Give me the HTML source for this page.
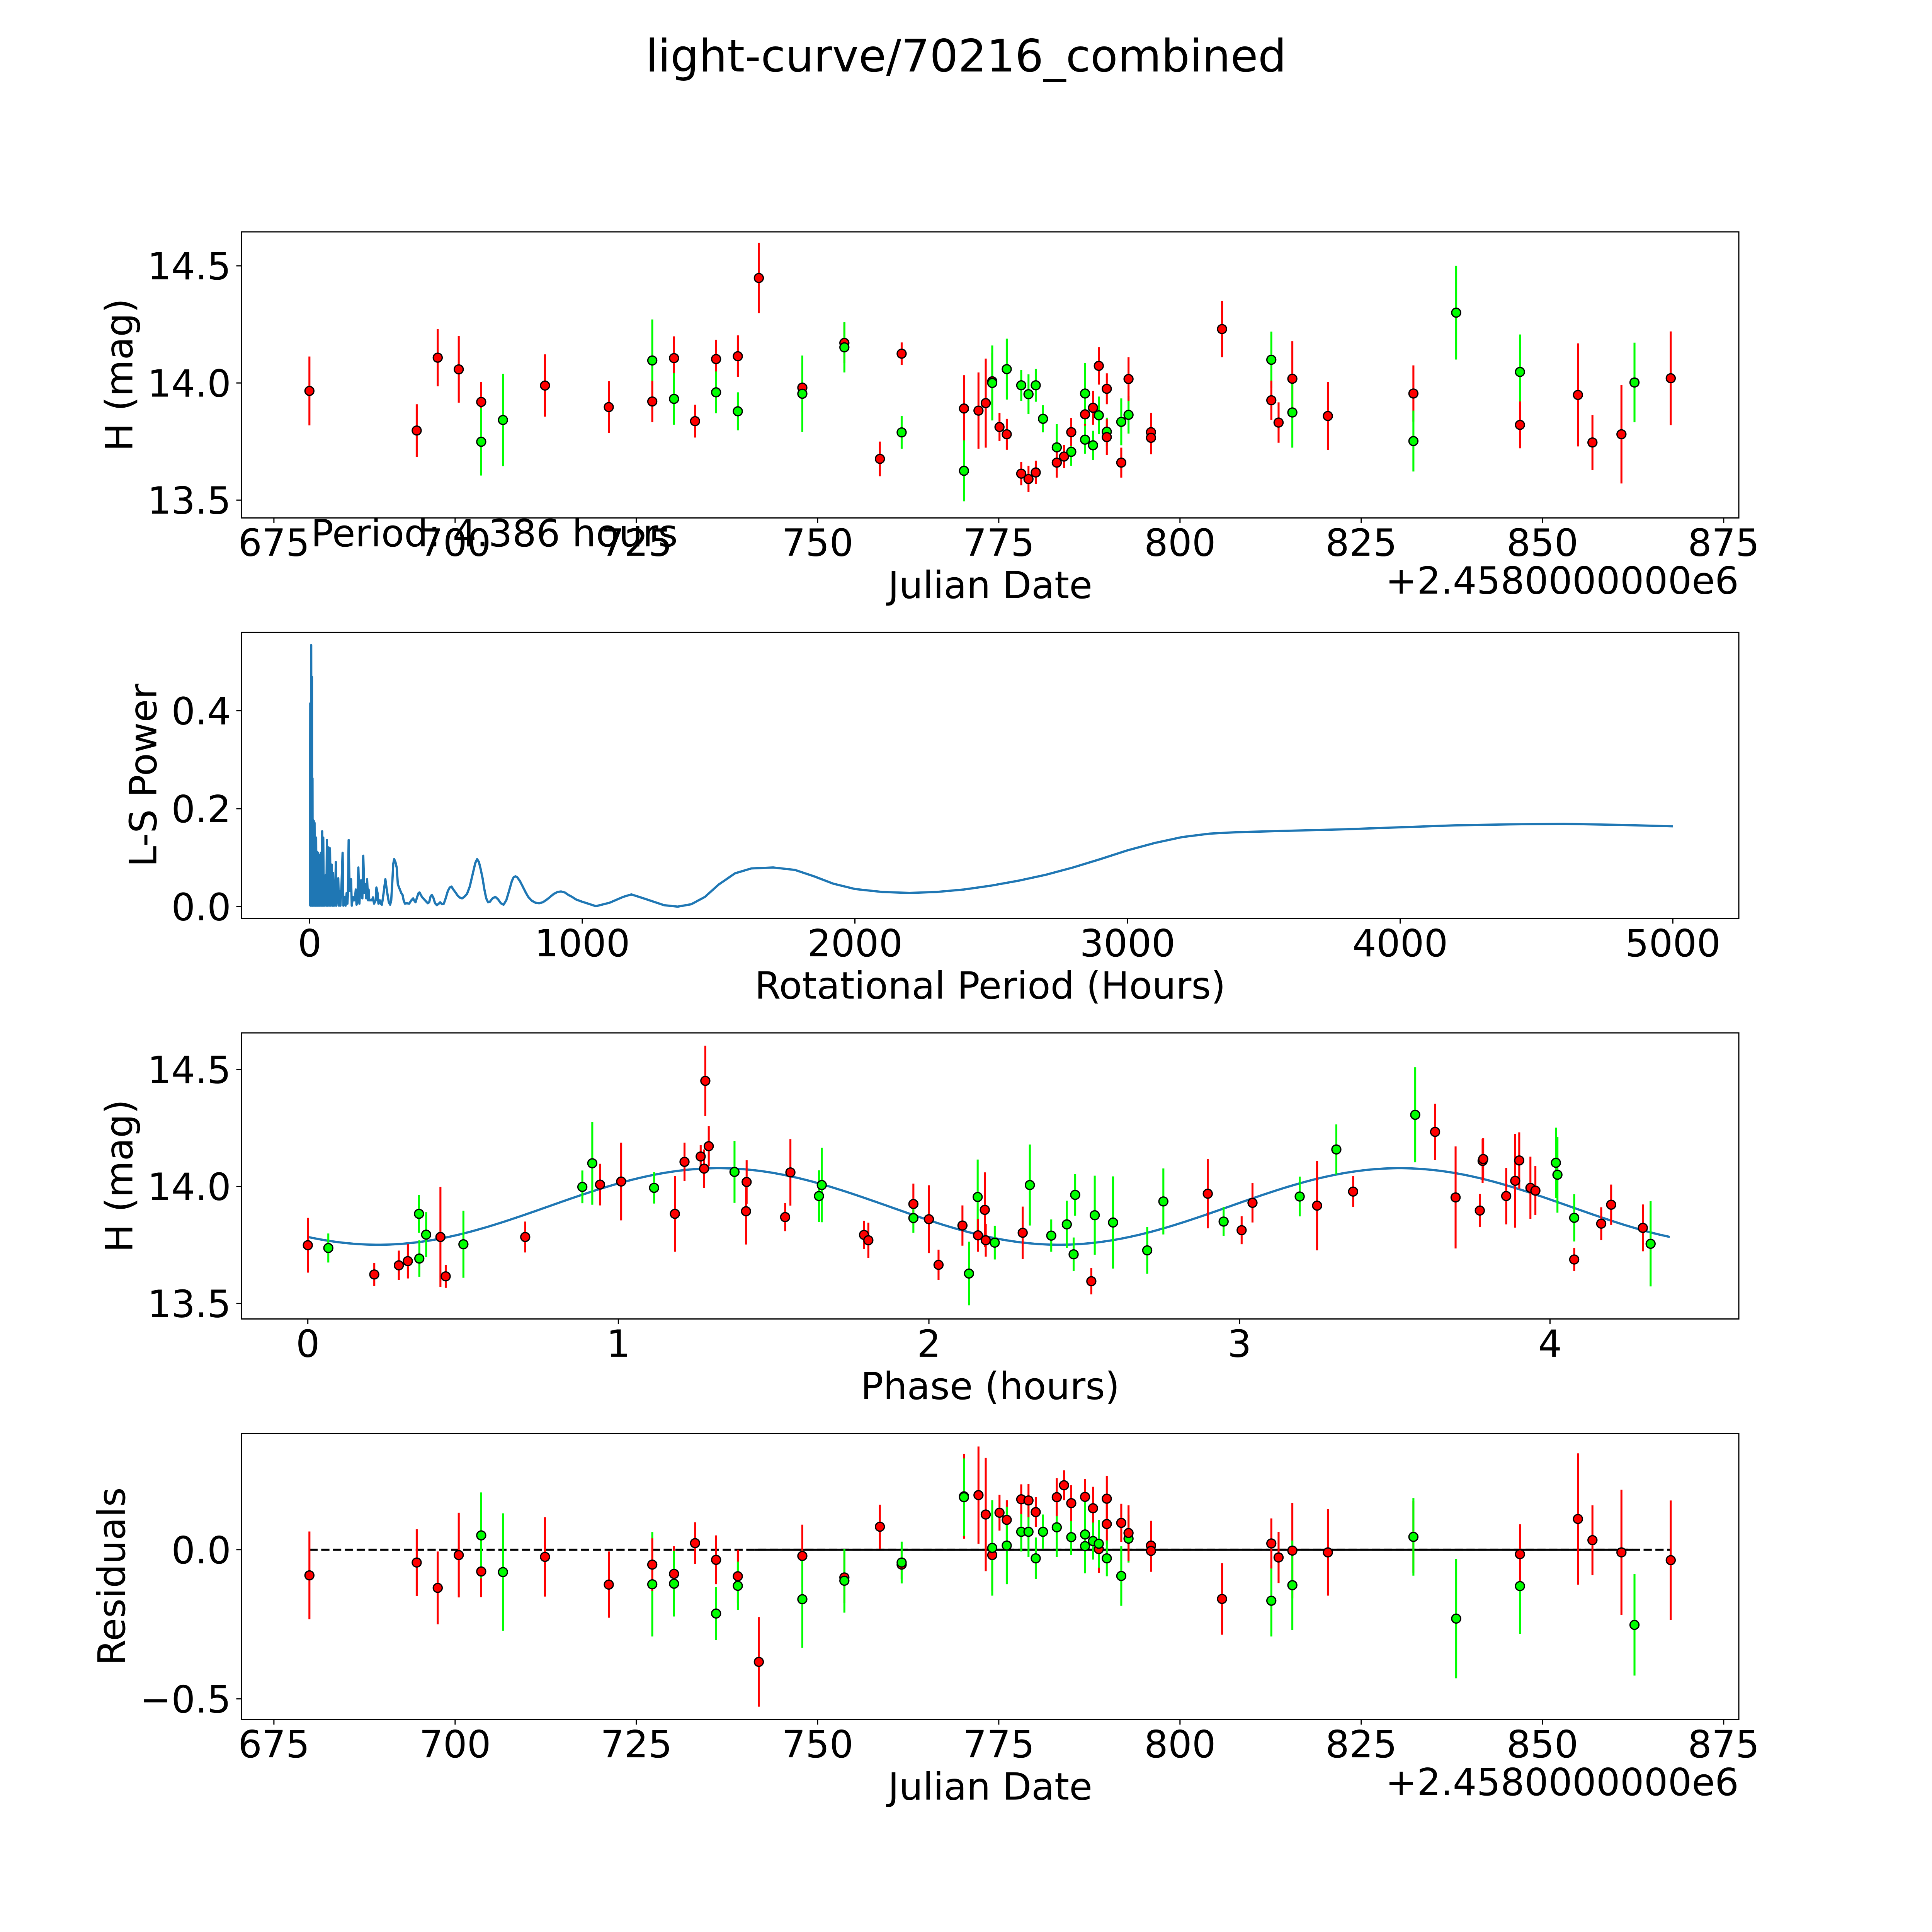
<!DOCTYPE html>
<html><head><meta charset="utf-8"><style>
html,body{margin:0;padding:0;background:#fff;overflow:hidden;width:100%;height:100%;}
svg{display:block;font-family:"DejaVu Sans","Liberation Sans",sans-serif;width:100vw;height:100vh;}
</style></head><body>
<svg id="fig" viewBox="0 0 5400 5400" preserveAspectRatio="none" xmlns="http://www.w3.org/2000/svg">
<rect x="0" y="0" width="5400" height="5400" fill="#fff"/>
<text x="2700" y="200" font-size="125" text-anchor="middle">light-curve/70216_combined</text>
</svg>
<script>
// ---------- data: observations (panels 1 & 4) ----------
const obsDate=[679.9,694.7,697.6,700.5,703.6,703.6,706.6,712.4,721.2,727.2,727.2,730.2,730.2,733.1,736.0,736.0,739.0,739.0,741.9,747.9,747.9,753.7,753.7,758.6,761.6,761.6,770.2,770.2,772.2,773.2,774.1,774.1,775.1,776.1,776.1,778.1,778.1,779.1,779.1,780.1,780.1,781.1,783.0,783.0,784.0,785.0,785.0,786.9,786.9,786.9,788.0,788.0,788.8,788.8,789.9,789.9,789.9,791.9,791.9,792.9,792.9,796.0,796.0,805.8,812.6,812.6,813.6,815.5,815.5,820.4,832.2,832.2,838.1,846.9,846.9,854.9,856.9,860.9,862.7,867.7];
const obsMag=[13.966,13.797,14.108,14.058,13.919,13.749,13.842,13.989,13.897,14.096,13.921,14.106,13.932,13.837,14.102,13.96,14.114,13.879,14.448,13.98,13.954,14.171,14.152,13.676,14.125,13.789,13.891,13.625,13.882,13.914,14.007,14.0,13.812,13.781,14.059,13.99,13.613,13.952,13.59,13.99,13.618,13.847,13.725,13.66,13.686,13.706,13.79,13.866,13.955,13.758,13.894,13.734,14.073,13.862,13.975,13.792,13.769,13.66,13.834,13.864,14.017,13.79,13.766,14.23,14.099,13.926,13.831,14.018,13.874,13.859,13.955,13.752,14.3,14.047,13.821,13.949,13.746,13.781,14.002,14.02];
const obsErr=[.147,.112,.122,.142,.086,.144,.197,.133,.111,.175,.088,.093,.11,.07,.082,.089,.089,.081,.15,.105,.163,.086,.107,.074,.048,.07,.142,.13,.163,.19,.12,.16,.06,.066,.13,.066,.05,.085,.056,.07,.05,.058,.1,.064,.05,.06,.06,.06,.13,.06,.072,.062,.08,.08,.066,.06,.076,.064,.1,.08,.093,.083,.07,.12,.12,.084,.086,.16,.15,.145,.12,.13,.2,.16,.1,.22,.117,.21,.17,.2];
const obsBand=['r','r','r','r','r','g','g','r','r','g','r','r','g','r','r','g','r','g','r','r','g','r','g','r','r','g','r','g','r','r','r','g','r','r','g','g','r','g','r','g','r','g','g','r','r','g','r','r','g','g','r','g','r','g','r','g','r','r','g','g','r','r','r','r','g','r','r','r','g','r','r','g','g','g','r','r','r','r','g','r'];
const obsResid=[-0.086,-0.043,-0.128,-0.018,-0.073,0.048,-0.075,-0.024,-0.117,-0.116,-0.05,-0.081,-0.114,0.022,-0.034,-0.214,-0.089,-0.121,-0.376,-0.021,-0.166,-0.093,-0.104,0.077,-0.05,-0.043,0.179,0.176,0.183,0.118,-0.018,0.006,0.124,0.1,0.014,0.06,0.169,0.06,0.165,-0.029,0.126,0.06,0.075,0.176,0.216,0.042,0.156,0.177,0.051,0.012,0.139,0.029,0.002,0.02,0.086,-0.029,0.171,0.09,-0.088,0.037,0.056,0.014,-0.004,-0.165,-0.171,0.021,-0.026,-0.003,-0.119,-0.009,0.043,0.043,-0.231,-0.122,-0.015,0.103,0.032,-0.009,-0.252,-0.035];
// ---------- data: phased (panel 3) ----------
const phHours=[0.0,0.066,0.214,0.293,0.322,0.358,0.359,0.381,0.427,0.444,0.501,0.7,0.884,0.916,0.941,1.009,1.115,1.182,1.213,1.265,1.276,1.28,1.291,1.374,1.413,1.411,1.537,1.554,1.646,1.655,1.791,1.805,1.95,1.95,2.0,2.031,2.108,2.129,2.157,2.158,2.18,2.183,2.212,2.302,2.325,2.394,2.444,2.466,2.471,2.523,2.534,2.593,2.703,2.755,2.898,2.949,3.007,3.042,3.194,3.25,3.312,3.366,3.566,3.63,3.696,3.774,3.783,3.785,3.859,3.888,3.901,3.937,3.953,4.019,4.024,4.078,4.078,4.165,4.197,4.299,4.324];
const phMag=[13.749,13.737,13.624,13.663,13.681,13.883,13.692,13.794,13.784,13.616,13.753,13.784,13.998,14.099,14.008,14.021,13.994,13.883,14.105,14.128,14.076,14.451,14.172,14.062,14.019,13.894,13.869,14.06,13.959,14.006,13.793,13.77,13.925,13.865,13.86,13.665,13.833,13.628,13.955,13.791,13.9,13.77,13.76,13.802,14.006,13.79,13.838,13.71,13.964,13.595,13.877,13.846,13.727,13.936,13.969,13.85,13.813,13.93,13.957,13.918,14.158,13.978,14.306,14.233,13.953,13.897,14.109,14.117,13.959,14.024,14.111,13.994,13.982,14.101,14.05,13.866,13.688,13.841,13.922,13.823,13.755];
const phErr=[.117,.062,.049,.063,.074,.081,.078,.096,.214,.049,.143,.066,.07,.177,.089,.166,.067,.162,.082,.048,.082,.15,.086,.132,.093,.142,.06,.142,.11,.159,.06,.075,.087,.063,.145,.065,.086,.136,.16,.07,.16,.07,.072,.112,.173,.069,.101,.072,.089,.056,.169,.197,.1,.141,.148,.062,.06,.084,.085,.191,.107,.066,.203,.12,.218,.071,.095,.089,.121,.2,.12,.133,.105,.15,.162,.101,.05,.07,.086,.1,.182];
const phBand=['r','g','r','r','r','g','g','g','r','r','g','r','g','g','r','r','g','r','r','r','r','r','r','g','r','r','r','r','g','g','r','r','r','g','r','r','r','g','g','r','r','r','g','r','g','g','g','g','g','r','g','g','g','g','r','g','r','r','g','r','g','r','g','r','r','r','r','r','r','r','r','r','r','g','g','g','r','r','r','r','g'];
// fit model parameters: [mean, amplitude, peak phase, harmonic period, rotation period]
const fitParams=[13.9145,0.1635,1.323,2.193,4.386];
// ---------- data: periodogram (panel 2) ----------
const lsHours=[1,1.7,2.3,3,4.4,5.7,7,8.4,9,10.4,11,12.4,13.7,15.1,16.4,17.8,19.1,20.4,21.8,23.8,25.1,27.1,28.5,30.5,31.8,33.8,35.2,37.2,38.5,41.2,43.2,45.9,47.9,49.9,51.9,53.9,55.9,59.3,61.3,63.3,66,69.3,71.4,74.7,77.4,80.7,83.4,86.1,88.1,90.1,92.8,96.1,98.2,102.2,104.9,107.5,110.9,112.9,116.9,120.9,123.6,128.3,131.7,135.7,138.4,140.4,143,146.4,148.4,151.8,154.4,158.5,161.8,165.8,169.2,171.9,175.2,178.6,182.6,185.9,188.6,193.3,196.6,200.7,204,207.4,210.7,214.1,216.1,218.8,225.5,228.8,232.2,236.2,242.2,244.9,248.9,252.3,257.6,260.3,265,270.3,277.7,281.7,285.8,290.4,295.1,299.2,303.2,306.5,309.9,314.6,319.3,323.3,328,336,340.7,344.7,349.4,356.1,364.8,372.9,379.6,382.9,388.3,394.3,399.7,403,407.7,413.1,419.8,426.5,433.2,438.5,443.2,447.9,453.3,460,466.7,473.4,478.7,485.4,492.1,498.8,506.9,513.6,520.3,527,533.7,543.7,552.4,559.1,567.2,577.2,587.3,597.3,607.4,614.1,620.8,627.5,634.2,640.9,647.6,654.3,661,671,681.1,691.1,701.2,711.2,721.3,731.3,741.4,748.1,754.8,761.5,771.5,781.6,791.6,801.7,815.1,828.5,841.9,855.3,868.7,882.1,895.5,908.9,922.3,935.7,949.1,962.5,975.9,994.6,1050,1100,1150,1180,1230,1300,1350,1400,1450,1500,1560,1620,1700,1780,1850,1920,2000,2100,2200,2300,2400,2500,2600,2700,2800,2900,3000,3100,3200,3300,3400,3600,3800,4000,4200,4400,4600,4800,5000];
const lsPower=[.002,.177,.415,.002,.173,.534,.002,.469,.002,.262,.002,.177,.002,.175,.002,.171,.002,.139,.002,.141,.002,.112,.002,.110,.002,.104,.002,.106,.002,.110,.002,.154,.002,.141,.002,.032,.002,.065,.002,.136,.002,.121,.002,.119,.002,.086,.002,.069,.002,.045,.002,.091,.002,.032,.058,.002,.032,.002,.045,.110,.002,.020,.002,.028,.006,.028,.136,.032,.035,.056,.002,.020,.013,.013,.035,.004,.009,.080,.006,.046,.054,.017,.104,.028,.046,.017,.056,.013,.035,.013,.013,.013,.019,.006,.013,.039,.028,.006,.013,.006,.004,.024,.056,.039,.024,.009,.004,.013,.050,.087,.097,.091,.080,.046,.039,.028,.024,.013,.006,.007,.006,.013,.017,.013,.009,.020,.028,.029,.024,.019,.015,.011,.007,.009,.020,.024,.019,.007,.003,.006,.009,.005,.006,.017,.032,.039,.041,.035,.030,.022,.018,.017,.020,.026,.041,.065,.089,.097,.091,.076,.058,.035,.017,.009,.010,.017,.020,.015,.007,.004,.013,.032,.052,.060,.062,.060,.052,.041,.030,.020,.012,.008,.007,.009,.014,.020,.026,.030,.031,.029,.024,.020,.015,.011,.001,.008,.020,.025,.016,.003,.000,.005,.020,.045,.068,.078,.080,.075,.062,.047,.036,.030,.028,.030,.035,.043,.053,.065,.080,.097,.115,.130,.142,.149,.152,.155,.158,.162,.166,.168,.169,.167,.164];
// ---------- ticks ----------
const dateTicks=[675,700,725,750,775,800,825,850,875];
const magTicks=[13.5,14.0,14.5];
const lsXTicks=[0,1000,2000,3000,4000,5000];
const lsYTicks=[0.0,0.2,0.4];
const phTicks=[0,1,2,3,4];
const resTicks=[-0.5,0.0];

const NS='http://www.w3.org/2000/svg';
const svg=document.getElementById('fig');
const FS=105;
const L=675,R=4860,AH=799.6;
const TOPS=[648,1767.4,2886.9,4006.3];
const COL={r:'#ff0000',g:'#00ff00'};
function mk(tag,attrs,parent){const e=document.createElementNS(NS,tag);for(const k in attrs)e.setAttribute(k,attrs[k]);(parent||svg).appendChild(e);return e;}
function fmt(v,d){let s=v.toFixed(d);if(v<0)s='\u2212'+s.slice(1);return s;}

function makeAxes(i,xmin,xmax,ymin,ymax,name){
  const top=TOPS[i],bot=top+AH;
  const g=mk('g',{});
  
  
  const sx=v=>L+(v-xmin)/(xmax-xmin)*(R-L);
  const sy=v=>bot-(v-ymin)/(ymax-ymin)*AH;
  const clip=mk('clipPath',{id:'clip'+i},g);
  mk('rect',{x:L,y:top,width:R-L,height:AH},clip);
  const plot=mk('g',{'clip-path':'url(#clip'+i+')'},g);
  
  
  return {g,plot,sx,sy,top,bot};
}
function finishAxes(ax,xt,xd,yt,yd,xlabel,ylabel,ylabX,name){
  const g=ax.g;
  const frame=mk('rect',{x:L,y:ax.top,width:R-L,height:AH,fill:'none',stroke:'#000','stroke-width':3.3},g);
  
  
  xt.forEach(v=>{
    const x=ax.sx(v);
    const t=mk('line',{x1:x,x2:x,y1:ax.bot,y2:ax.bot+14.6,stroke:'#000','stroke-width':3.3},g);
    
    
    const lb=mk('text',{x:x,y:ax.bot+106,'font-size':FS,'text-anchor':'middle'},g);
    lb.textContent=fmt(v,xd);
    
    
  });
  yt.forEach(v=>{
    const y=ax.sy(v);
    const t=mk('line',{x1:L-14.6,x2:L,y1:y,y2:y,stroke:'#000','stroke-width':3.3},g);
    
    
    const lb=mk('text',{x:L-29.2,y:y+38,'font-size':FS,'text-anchor':'end'},g);
    lb.textContent=fmt(v,1);
    
    
  });
  const xl=mk('text',{x:(L+R)/2,y:ax.bot+224,'font-size':FS,'text-anchor':'middle'},g);
  xl.textContent=xlabel;
  
  
  const cy=ax.top+AH/2;
  const yl=mk('text',{x:ylabX,y:cy,'font-size':FS,'text-anchor':'middle',transform:'rotate(-90 '+ylabX+' '+cy+')'},g);
  yl.textContent=ylabel;
  
  
}
function drawErrPoints(ax,xs,ys,es,bands,name){
  for(let k=0;k<xs.length;k++){
    const x=ax.sx(xs[k]);
    const b=mk('line',{x1:x,x2:x,y1:ax.sy(ys[k]-es[k]),y2:ax.sy(ys[k]+es[k]),stroke:COL[bands[k]],'stroke-width':5.5},ax.plot);
    
    
  }
  for(let k=0;k<xs.length;k++){
    const c=mk('circle',{cx:ax.sx(xs[k]),cy:ax.sy(ys[k]),r:12.5,fill:COL[bands[k]],stroke:'#000','stroke-width':3.5},ax.plot);
    
    
  }
}

// Panel 1
const a1=makeAxes(0,670.53,877.09,13.424,14.645,'light-curve');
drawErrPoints(a1,obsDate,obsMag,obsErr,obsBand,'observation');
finishAxes(a1,dateTicks,0,magTicks,1,'Julian Date','H (mag)',370,'light-curve');
const off1=mk('text',{x:R,y:a1.bot+212,'font-size':FS,'text-anchor':'end'});
off1.textContent='+2.4580000000e6';


const per=mk('text',{x:869,y:1527,'font-size':FS});
per.textContent='Period: 4.386 hours';



// Panel 2
const a2=makeAxes(1,-250,5242,-0.024,0.56,'periodogram');
let d2='';
for(let k=0;k<lsHours.length;k++){d2+=(k?'L':'M')+a2.sx(lsHours[k]).toFixed(1)+' '+a2.sy(lsPower[k]).toFixed(1);}
const ls=mk('path',{d:d2,fill:'none',stroke:'#1f77b4','stroke-width':6.25,'stroke-linejoin':'round'},a2.plot);


finishAxes(a2,lsXTicks,0,lsYTicks,1,'Rotational Period (Hours)','L-S Power',437,'periodogram');

// Panel 3
const a3=makeAxes(2,-0.2136,4.608,13.434,14.656,'phased');
let d3='';
const N=300;
for(let k=0;k<=N;k++){const p=fitParams[4]*k/N;const m=fitParams[0]+fitParams[1]*Math.cos(2*Math.PI*(p-fitParams[2])/fitParams[3]);d3+=(k?'L':'M')+a3.sx(p).toFixed(1)+' '+a3.sy(m).toFixed(1);}
const fit=mk('path',{d:d3,fill:'none',stroke:'#1f77b4','stroke-width':6.25},a3.plot);


drawErrPoints(a3,phHours,phMag,phErr,phBand,'phased');
finishAxes(a3,phTicks,0,magTicks,1,'Phase (hours)','H (mag)',370,'phased');

// Panel 4
const a4=makeAxes(3,670.53,877.09,-0.569,0.390,'residuals');
const z0=mk('line',{x1:a4.sx(obsDate[0]),x2:a4.sx(obsDate[obsDate.length-1]),y1:a4.sy(0),y2:a4.sy(0),stroke:'#000','stroke-width':6,'stroke-dasharray':'23 10'},a4.plot);


const z1=mk('line',{x1:a4.sx(741.3),x2:a4.sx(862.4),y1:a4.sy(0),y2:a4.sy(0),stroke:'#000','stroke-width':6},a4.plot);


drawErrPoints(a4,obsDate,obsResid,obsErr,obsBand,'residual');
finishAxes(a4,dateTicks,0,resTicks,1,'Julian Date','Residuals',349,'residuals');
const off4=mk('text',{x:R,y:a4.bot+212,'font-size':FS,'text-anchor':'end'});
off4.textContent='+2.4580000000e6';


</script>
</body></html>
